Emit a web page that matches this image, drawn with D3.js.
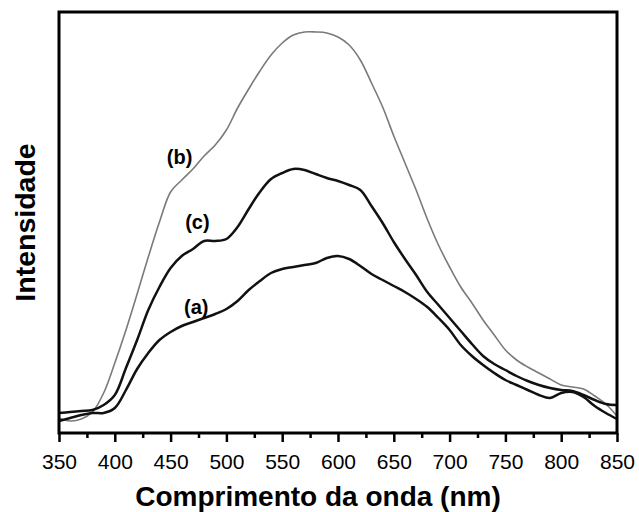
<!DOCTYPE html>
<html>
<head>
<meta charset="utf-8">
<script src="https://cdn.jsdelivr.net/npm/d3@7"></script>
<style>
  body { margin: 0; background: #fff; }
  svg { display: block; font-family: "Liberation Sans", Arial, sans-serif; }
</style>
</head>
<body>
<div id="chart"></div>
<script>
// wavelengths (nm), 350..850 every 10 nm
const wavelengths = [350, 360, 370, 380, 390, 400, 410, 420, 430, 440, 450, 460, 470, 480, 490,
  500, 510, 520, 530, 540, 550, 560, 570, 580, 590, 600, 610, 620, 630, 640, 650, 660, 670, 680,
  690, 700, 710, 720, 730, 740, 750, 760, 770, 780, 790, 800, 810, 820, 830, 840, 850];

// intensity, arbitrary units
const seriesA = [12, 15, 18, 20, 20, 25, 43, 64, 80, 93, 101, 107, 111, 115, 119,
  124, 132, 143, 152, 160, 164, 166, 168, 170, 175, 177, 174, 167, 159, 153, 147, 141, 134, 126,
  115, 103, 88, 77, 68, 60, 53, 48, 43, 38, 35, 40, 41, 36, 27, 20, 14];

const seriesB = [15, 12, 14, 21, 40, 70, 103, 139, 176, 211, 241, 253, 264, 277, 288,
  303, 325, 344, 362, 378, 390, 398, 401, 401, 400, 396, 388, 373, 350, 326, 297, 270, 243, 214,
  188, 166, 146, 130, 113, 98, 83, 73, 66, 60, 54, 48, 46, 44, 37, 29, 17];

const seriesC = [20, 21, 22, 23, 28, 38, 65, 93, 123, 146, 165, 177, 184, 192, 192,
  194, 206, 224, 241, 254, 260, 264, 263, 259, 255, 252, 248, 243, 227, 210, 191, 174, 158, 141,
  128, 115, 102, 89, 77, 69, 63, 57, 52, 48, 45, 43, 42, 38, 33, 29, 28];

const majorTicks = [350, 400, 450, 500, 550, 600, 650, 700, 750, 800, 850];
const minorTicks = [375, 425, 475, 525, 575, 625, 675, 725, 775, 825];

// curve labels: [text, wavelength, intensity]
const labels = [["(b)", 458, 269], ["(c)", 474, 204], ["(a)", 473, 119]];

const width = 639;
const height = 512;
const margin = { top: 12, right: 22, bottom: 79, left: 59 };

const svg = d3.select("#chart")
  .append("svg")
  .attr("width", width)
  .attr("height", height);

const x = d3.scaleLinear()
  .domain([350, 850])
  .range([margin.left, width - margin.right]);

const y = d3.scaleLinear()
  .domain([0, 421])
  .range([height - margin.bottom, margin.top]);

const plotBottom = height - margin.bottom;

// minor ticks
svg.append("g")
  .attr("transform", `translate(0, ${plotBottom})`)
  .call(d3.axisBottom(x).tickValues(minorTicks).tickSize(5).tickFormat(""))
  .call(g => g.select(".domain").remove())
  .call(g => g.selectAll("line").attr("stroke", "#000").attr("stroke-width", 2.5));

// major ticks
svg.append("g")
  .attr("transform", `translate(0, ${plotBottom})`)
  .call(d3.axisBottom(x).tickValues(majorTicks).tickSize(9).tickPadding(12))
  .call(g => g.select(".domain").remove())
  .call(g => g.selectAll("line").attr("stroke", "#000").attr("stroke-width", 2.5))
  .call(g => g.selectAll("text")
    .attr("fill", "#000")
    .style("font-family", "'Liberation Sans', Arial, sans-serif")
    .style("font-size", "21px"));

// curves
const line = d3.line()
  .x((d, i) => x(wavelengths[i]))
  .y(d => y(d))
  .curve(d3.curveCatmullRom);

svg.append("path")
  .datum(seriesB)
  .attr("fill", "none")
  .attr("stroke", "#7a7a7a")
  .attr("stroke-width", 1.6)
  .attr("d", line);

svg.append("path")
  .datum(seriesC)
  .attr("fill", "none")
  .attr("stroke", "#111")
  .attr("stroke-width", 2.5)
  .attr("d", line);

svg.append("path")
  .datum(seriesA)
  .attr("fill", "none")
  .attr("stroke", "#111")
  .attr("stroke-width", 2.5)
  .attr("d", line);

// frame
svg.append("rect")
  .attr("x", margin.left)
  .attr("y", margin.top)
  .attr("width", width - margin.left - margin.right)
  .attr("height", plotBottom - margin.top)
  .attr("fill", "none")
  .attr("stroke", "#000")
  .attr("stroke-width", 3);

// curve labels
svg.selectAll(".lbl")
  .data(labels)
  .enter()
  .append("text")
  .attr("class", "lbl")
  .attr("x", d => x(d[1]))
  .attr("y", d => y(d[2]))
  .attr("text-anchor", "middle")
  .style("font-weight", "bold")
  .style("font-size", "20px")
  .text(d => d[0]);

// axis titles
svg.append("text")
  .attr("x", 318)
  .attr("y", 506)
  .attr("text-anchor", "middle")
  .style("font-weight", "bold")
  .style("font-size", "28px")
  .text("Comprimento da onda (nm)");

svg.append("text")
  .attr("transform", `translate(35, ${(margin.top + plotBottom) / 2}) rotate(-90)`)
  .attr("text-anchor", "middle")
  .style("font-weight", "bold")
  .style("font-size", "28.5px")
  .text("Intensidade");
</script>
</body>
</html>
